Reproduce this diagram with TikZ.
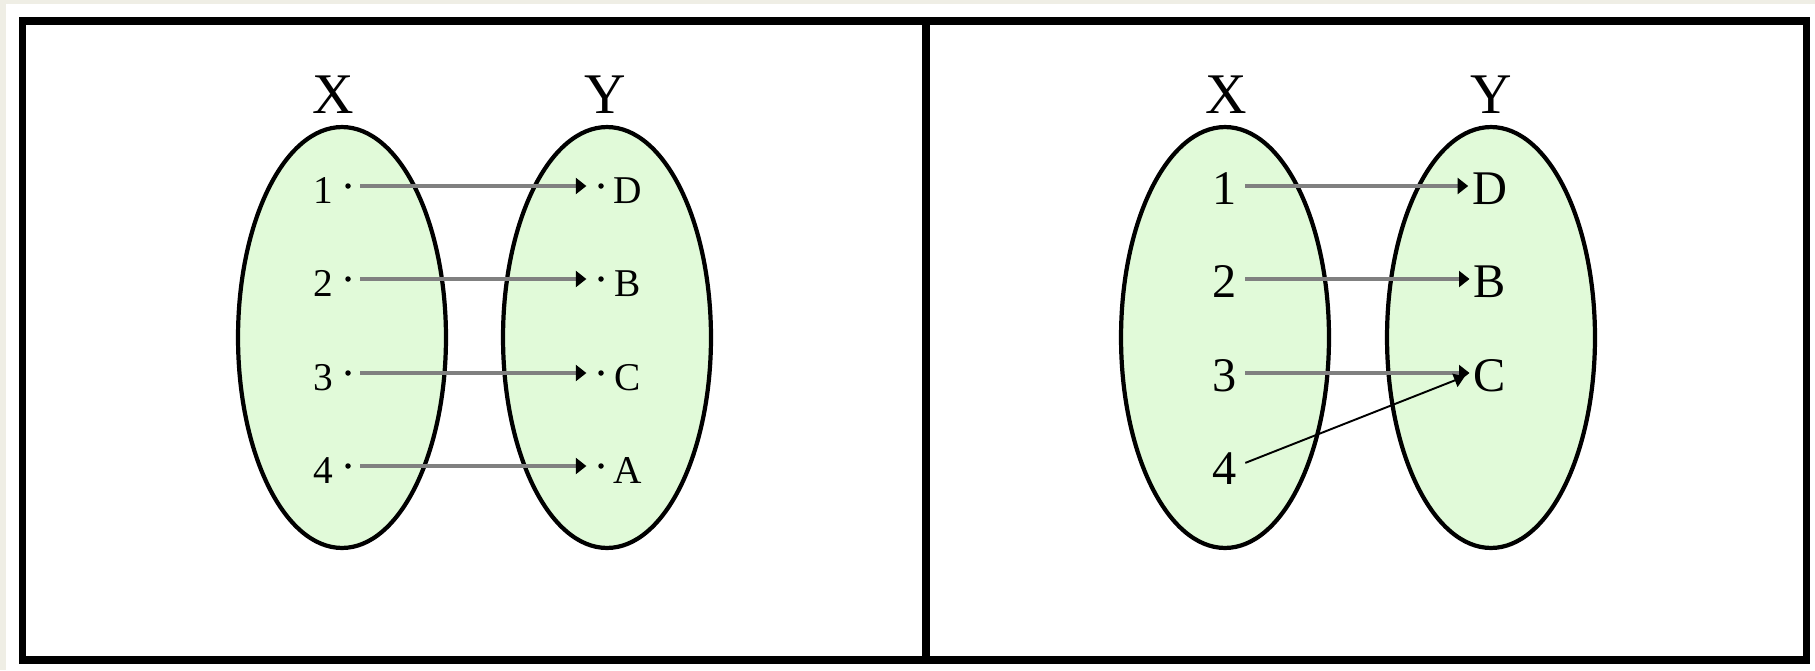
\documentclass[tikz,border=0pt]{standalone}
\usepackage{fontspec}
\setmainfont{Liberation Serif}
\usetikzlibrary{arrows.meta,shapes.geometric}
\definecolor{paper}{HTML}{EFEEE5}
\definecolor{setfill}{HTML}{E1FAD9}
\definecolor{mapgray}{HTML}{808080}
\tikzset{
  frameline/.style={draw=black,line width=4pt},
  setbox/.style={ellipse,draw=black,fill=setfill,line width=2.4pt,minimum width=4.16cm,minimum height=8.42cm,inner sep=0pt},
  setname/.style={font=\fontsize{32.7}{34}\selectfont,inner sep=0pt},
  elemsmall/.style={font=\fontsize{22.4}{24}\selectfont,inner sep=0pt,text height=20.4pt,text depth=0pt},
  elembig/.style={font=\fontsize{27.5}{29}\selectfont,inner sep=0pt,text height=21.6pt,text depth=0pt},
  elemdot/.style={circle,fill=black,inner sep=0pt,minimum size=0.11cm},
  maparrow/.style={-{Triangle[length=6pt,width=9pt,color=black]},line width=2.2pt,draw=mapgray},
  thinarrow/.style={-{Triangle[length=6pt,width=8pt]},line width=1.1pt,draw=black}
}
\begin{document}
\begin{tikzpicture}[x=0.02cm,y=-0.02cm]
  % background and frame
  \fill[paper] (0,0) rectangle (1815,670);
  \fill[white] (6,4) rectangle (1815,670);
  \draw[frameline] (22.5,21) rectangle (1806.5,660);
  \draw[frameline] (926,21) -- (926,660);

  % left panel
  \node[setbox] (lx) at (342,337.5) {};
  \node[setbox] (ly) at (607,337.5) {};
  \node[setname] (lxname) at (333,95) {X};
  \node[setname] (lyname) at (605,95) {Y};
  \node[elemsmall] (l1) at (323,186) {1};
  \node[elemsmall] (l2) at (323,279) {2};
  \node[elemsmall] (l3) at (323,373) {3};
  \node[elemsmall] (l4) at (323,466) {4};
  \node[elemdot] (l1dot) at (348,186) {};
  \node[elemdot] (l2dot) at (348,279) {};
  \node[elemdot] (l3dot) at (348,373) {};
  \node[elemdot] (l4dot) at (348,466) {};
  \node[elemsmall] (lD) at (628,186) {D};
  \node[elemsmall] (lB) at (628,279) {B};
  \node[elemsmall] (lC) at (628,373) {C};
  \node[elemsmall] (lA) at (628,466) {A};
  \node[elemdot] (lDdot) at (601,186) {};
  \node[elemdot] (lBdot) at (601,279) {};
  \node[elemdot] (lCdot) at (601,373) {};
  \node[elemdot] (lAdot) at (601,466) {};
  \draw[maparrow,shorten <=0.18cm,shorten >=0.23cm] (l1dot) -- (lDdot);
  \draw[maparrow,shorten <=0.18cm,shorten >=0.23cm] (l2dot) -- (lBdot);
  \draw[maparrow,shorten <=0.18cm,shorten >=0.23cm] (l3dot) -- (lCdot);
  \draw[maparrow,shorten <=0.18cm,shorten >=0.23cm] (l4dot) -- (lAdot);

  % right panel
  \node[setbox] (rx) at (1225,337.5) {};
  \node[setbox] (ry) at (1491,337.5) {};
  \node[setname] (rxname) at (1226,95) {X};
  \node[setname] (ryname) at (1491,95) {Y};
  \node[elembig] (r1) at (1225,186) {1};
  \node[elembig] (r2) at (1225,279) {2};
  \node[elembig] (r3) at (1225,373) {3};
  \node[elembig] (r4) at (1225,466) {4};
  \node[elembig] (rD) at (1490,186) {D};
  \node[elembig] (rB) at (1490,279) {B};
  \node[elembig] (rC) at (1490,373) {C};
  \draw[maparrow,shorten <=0.16cm,shorten >=0.08cm] (r1.east) -- (rD.west);
  \draw[maparrow,shorten <=0.16cm,shorten >=0.08cm] (r2.east) -- (rB.west);
  \draw[maparrow,shorten <=0.16cm,shorten >=0.08cm] (r3.east) -- (rC.west);
  \draw[thinarrow,shorten <=0.17cm,shorten >=0.19cm] (r4.east) -- (rC.west);
\end{tikzpicture}
\end{document}
